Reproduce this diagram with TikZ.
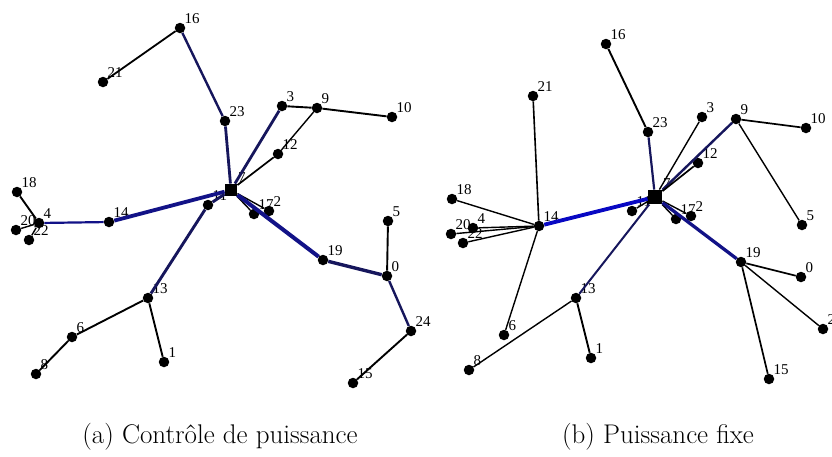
\documentclass[tikz,border=0pt]{standalone}
\usepackage{fontspec}
\usepackage{tikz}
\usetikzlibrary{positioning}
\usepackage{xcolor}
\newfontfamily\lblfont{Liberation Serif}
\definecolor{tiefblau}{RGB}{22,22,92}
\definecolor{mittelblau}{RGB}{18,18,135}
\definecolor{hellblau}{RGB}{8,8,195}
\tikzset{
  knoten/.style={circle, fill=black, inner sep=0pt, minimum size=10.5pt},
  senke/.style={rectangle, fill=black, inner sep=0pt, minimum size=#1},
  senke/.default=12.5pt,
  lbl/.style={font=\lblfont\fontsize{15}{15}\selectfont, inner sep=0.5pt},
  every label/.style={lbl},
  label distance=0pt,
  kante/.style={draw=black, line width=#1},
  kante/.default=1.4pt,
  legende/.style={font=\fontsize{27}{32}\selectfont, inner sep=0pt}
}

\begin{document}
\begin{tikzpicture}[x=1pt, y=-1pt]

            \useasboundingbox (0,0) rectangle (832,456);

            % (a) Knoten mit Leistungsregelung
            \node[senke, label={above right:7}] (a7) at (231,190) {};
            \node[knoten, label={above right:16}] (a16) at (180,28) {};
            \node[knoten, label={above right:21}] (a21) at (103,82) {};
            \node[knoten, label={above right:23}] (a23) at (225,121) {};
            \node[knoten, label={above right:3}] (a3) at (282,106) {};
            \node[knoten, label={above right:9}] (a9) at (317,108) {};
            \node[knoten, label={above right:10}] (a10) at (392,117) {};
            \node[knoten, label={above right:12}] (a12) at (278,154) {};
            \node[knoten, label={above right:18}] (a18) at (17,192) {};
            \node[knoten, label={above right:4}] (a4) at (39,223) {};
            \node[knoten, label={above right:20}] (a20) at (16,230) {};
            \node[knoten, label={above right:22}] (a22) at (29,240) {};
            \node[knoten, label={above right:14}] (a14) at (109,222) {};
            \node[knoten, label={above right:11}] (a11) at (208,205) {};
            \node[knoten, label={above right:17}] (a17) at (254,214) {};
            \node[knoten, label={above right:2}] (a2) at (269,211) {};
            \node[knoten, label={above right:5}] (a5) at (388,221) {};
            \node[knoten, label={above right:19}] (a19) at (323,260) {};
            \node[knoten, label={above right:0}] (a0) at (387,276) {};
            \node[knoten, label={above right:13}] (a13) at (148,298) {};
            \node[knoten, label={above right:6}] (a6) at (72,337) {};
            \node[knoten, label={above right:1}] (a1) at (164,362) {};
            \node[knoten, label={above right:8}] (a8) at (36,374) {};
            \node[knoten, label={above right:24}] (a24) at (411,331) {};
            \node[knoten, label={above right:15}] (a15) at (353,383) {};

            % (a) Verbindungen
            \draw[kante=1.8pt] (a16) -- (a21);
            \draw[kante=2.4pt, draw=tiefblau] (a16) -- (a23);
            \draw[kante=2.8pt, draw=tiefblau] (a23) -- (a7);
            \draw[kante=2.8pt, draw=tiefblau] (a3) -- (a7);
            \draw[kante=1.9pt] (a3) -- (a9);
            \draw[kante=1.9pt] (a9) -- (a10);
            \draw[kante] (a9) -- (a12);
            \draw[kante=1.7pt] (a12) -- (a7);
            \draw[kante=1.9pt] (a18) -- (a4);
            \draw[kante] (a20) -- (a4);
            \draw[kante] (a22) -- (a4);
            \draw[kante=2.2pt, draw=mittelblau] (a4) -- (a14);
            \draw[kante=3.8pt, draw=mittelblau] (a14) -- (a7);
            \draw[kante=2.9pt, draw=tiefblau] (a13) -- (a11);
            \draw[kante=2.9pt, draw=tiefblau] (a11) -- (a7);
            \draw[kante] (a7) -- (a17);
            \draw[kante] (a7) -- (a2);
            \draw[kante=4pt, draw=mittelblau] (a7) -- (a19);
            \draw[kante=3.4pt, draw=tiefblau] (a19) -- (a0);
            \draw[kante=1.9pt] (a0) -- (a5);
            \draw[kante=2.4pt, draw=tiefblau] (a0) -- (a24);
            \draw[kante=1.9pt] (a24) -- (a15);
            \draw[kante=1.9pt] (a13) -- (a6);
            \draw[kante=1.9pt] (a6) -- (a8);
            \draw[kante=1.9pt] (a13) -- (a1);

            % (b) Knoten mit fester Leistung
            \node[senke=14.5pt, label={above right:7}] (b7) at (655,197) {};
            \node[knoten, label={above right:16}] (b16) at (606,44) {};
            \node[knoten, label={above right:21}] (b21) at (533,96) {};
            \node[knoten, label={above right:23}] (b23) at (648,132) {};
            \node[knoten, label={above right:3}] (b3) at (702,117) {};
            \node[knoten, label={above right:9}] (b9) at (736,119) {};
            \node[knoten, label={above right:10}] (b10) at (806,128) {};
            \node[knoten, label={above right:12}] (b12) at (698,163) {};
            \node[knoten, label={above right:18}] (b18) at (452,199) {};
            \node[knoten, label={above right:4}] (b4) at (473,228) {};
            \node[knoten, label={above right:20}] (b20) at (451,234) {};
            \node[knoten, label={above right:22}] (b22) at (463,243) {};
            \node[knoten, label={above right:14}] (b14) at (539,226) {};
            \node[knoten, label={above right:11}] (b11) at (632,211) {};
            \node[knoten, label={above right:17}] (b17) at (676,219) {};
            \node[knoten, label={above right:2}] (b2) at (691,216) {};
            \node[knoten, label={above right:5}] (b5) at (802,225) {};
            \node[knoten, label={above right:19}] (b19) at (741,262) {};
            \node[knoten, label={above right:0}] (b0) at (801,277) {};
            \node[knoten, label={above right:13}] (b13) at (576,298) {};
            \node[knoten, label={above right:6}] (b6) at (504,335) {};
            \node[knoten, label={above right:1}] (b1) at (591,358) {};
            \node[knoten, label={above right:8}] (b8) at (469,370) {};
            \node[knoten, label={above right:24}] (b24) at (823,329) {};
            \node[knoten, label={above right:15}] (b15) at (769,379) {};

            % (b) Verbindungen
            \draw[kante=1.6pt] (b21) -- (b14);
            \draw[kante=1.9pt] (b16) -- (b23);
            \draw[kante=2.2pt, draw=tiefblau] (b23) -- (b7);
            \draw[kante] (b3) -- (b7);
            \draw[kante=2.4pt, draw=tiefblau] (b9) -- (b7);
            \draw[kante=1.7pt] (b9) -- (b10);
            \draw[kante] (b9) -- (b5);
            \draw[kante=1.7pt] (b12) -- (b7);
            \draw[kante] (b18) -- (b14);
            \draw[kante] (b4) -- (b14);
            \draw[kante] (b20) -- (b14);
            \draw[kante] (b22) -- (b14);
            \draw[kante=3.8pt, draw=hellblau] (b14) -- (b7);
            \draw[kante] (b14) -- (b6);
            \draw[kante] (b11) -- (b7);
            \draw[kante=2pt, draw=tiefblau] (b13) -- (b7);
            \draw[kante] (b13) -- (b8);
            \draw[kante=1.9pt] (b13) -- (b1);
            \draw[kante] (b7) -- (b17);
            \draw[kante] (b7) -- (b2);
            \draw[kante=3.3pt, draw=mittelblau] (b7) -- (b19);
            \draw[kante=1.7pt] (b19) -- (b0);
            \draw[kante] (b19) -- (b24);
            \draw[kante=1.7pt] (b19) -- (b15);

            % Unterschriften
            \node[legende] (capA) at (220,437) {(a) Contrôle de puissance};
            \node[legende] (capB) at (658,437) {(b) Puissance fixe};

\end{tikzpicture}
\end{document}
